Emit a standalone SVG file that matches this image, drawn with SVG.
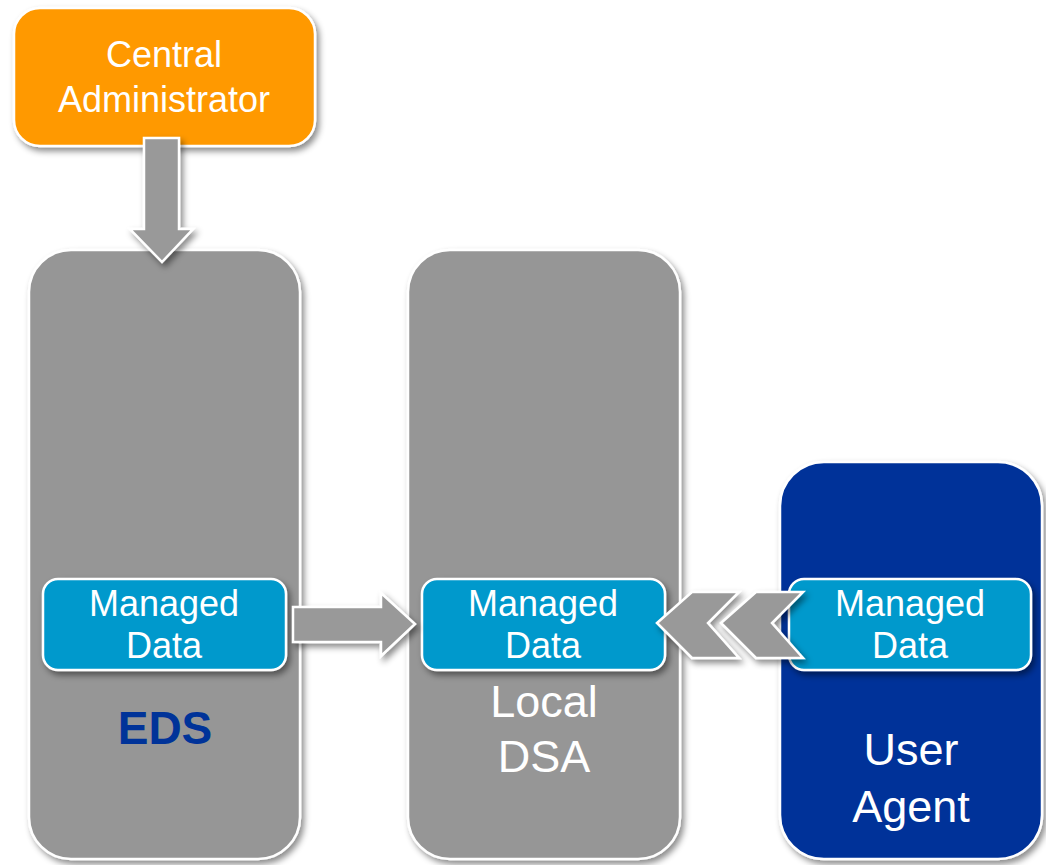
<svg xmlns="http://www.w3.org/2000/svg" width="1046" height="865" viewBox="0 0 1046 865">
<defs>
<filter id="sh" x="-20%" y="-20%" width="140%" height="140%">
<feDropShadow dx="3" dy="4" stdDeviation="3" flood-color="#000" flood-opacity="0.45"/>
</filter>
</defs>
<style>
.box{stroke:#fff;stroke-width:2.5;filter:url(#sh)}
.gray{fill:#969696}
.orange{fill:#FF9900}
.blue{fill:#003399}
.md{fill:#0099CC}
.arrow{fill:#999999;stroke:#fff;stroke-width:2.5;stroke-linejoin:miter;filter:url(#sh)}
text{font-family:"Liberation Sans",Arial,sans-serif;text-anchor:middle;fill:#fff}
.t36{font-size:36px}
.t45{font-size:45px}
.eds{font-size:46px;font-weight:bold;fill:#003399}
</style>
<rect width="1046" height="865" fill="#fff"/>
<g id="central-administrator">
<rect class="box orange" x="14" y="8" width="301" height="138" rx="26"/>
<text class="t36" x="164" y="67">Central</text>
<text class="t36" x="164" y="112">Administrator</text>
</g>
<g id="eds">
<rect class="box gray" x="29" y="250" width="271" height="609" rx="42"/>
<text class="eds" x="165" y="744">EDS</text>
</g>
<g id="local-dsa">
<rect class="box gray" x="408" y="250" width="272" height="609" rx="42"/>
<text class="t45" x="544" y="717">Local</text>
<text class="t45" x="544" y="772">DSA</text>
</g>
<g id="user-agent">
<rect class="box blue" x="780" y="462" width="262" height="397" rx="44"/>
<text class="t45" x="911" y="765">User</text>
<text class="t45" x="911" y="822">Agent</text>
</g>
<g id="eds-managed-data">
<rect class="box md" x="43" y="579" width="243" height="91" rx="15"/>
<text class="t36" x="164" y="616">Managed</text>
<text class="t36" x="164" y="658">Data</text>
</g>
<g id="dsa-managed-data">
<rect class="box md" x="422" y="579" width="243" height="91" rx="15"/>
<text class="t36" x="543" y="616">Managed</text>
<text class="t36" x="543" y="658">Data</text>
</g>
<g id="ua-managed-data">
<rect class="box md" x="789" y="579" width="242" height="91" rx="15"/>
<text class="t36" x="910" y="616">Managed</text>
<text class="t36" x="910" y="658">Data</text>
</g>
<g id="connectors">
<polygon class="arrow" points="144,138 179,138 179,229 193,229 162,262 130,229 144,229"/>
<polygon class="arrow" points="293,607 381,607 381,593 415,624 381,656 381,642 293,642"/>
<polygon class="arrow" points="657,623 692,592 739,592 708,623 739,658 692,658"/>
<polygon class="arrow" points="721,623 756,592 803,592 772,623 803,658 756,658"/>
</g>
</svg>
